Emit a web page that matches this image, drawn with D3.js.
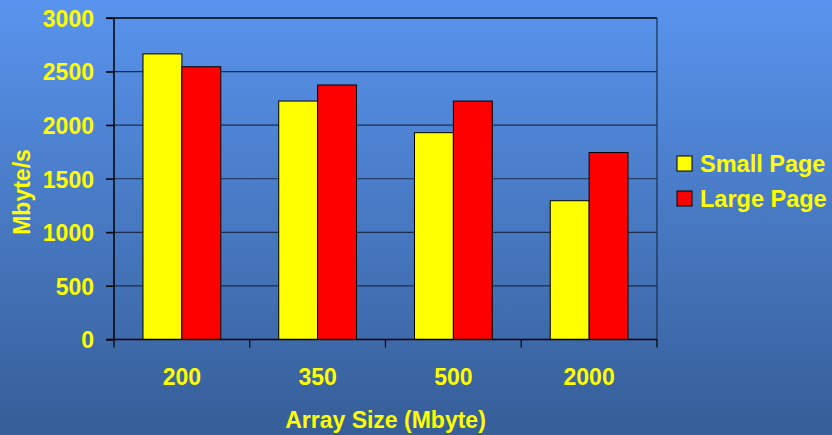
<!DOCTYPE html>
<html>
<head>
<meta charset="utf-8">
<script src="https://cdn.jsdelivr.net/npm/d3@7/dist/d3.min.js"></script>
<style>
  html, body { margin: 0; padding: 0; background: #4a7cc8; }
  svg { display: block; }
  text { font-family: "Liberation Sans", Arial, sans-serif; font-weight: bold; fill: #ffff00; }
</style>
</head>
<body>
<script>
// Memory bandwidth by array size, small vs large pages
const categories = ["200", "350", "500", "2000"];
const seriesNames = ["Small Page", "Large Page"];
const smallPage = [2665, 2225, 1930, 1295];
const largePage = [2545, 2375, 2225, 1745];
const yTicks = [0, 500, 1000, 1500, 2000, 2500, 3000];
const seriesColors = ["#ffff00", "#ff0000"];

const W = 832, H = 435;
const margin = { left: 114, right: 175, top: 18, bottom: 95.5 };
const x0 = margin.left, x1 = W - margin.right;
const yTop = margin.top, yBot = H - margin.bottom;

const svg = d3.select("body").append("svg").attr("width", W).attr("height", H);

// background gradient
const defs = svg.append("defs");
const grad = defs.append("linearGradient").attr("id", "bg").attr("x1", 0).attr("y1", 0).attr("x2", 0).attr("y2", 1);
grad.append("stop").attr("offset", "0%").attr("stop-color", "#5994ee");
grad.append("stop").attr("offset", "100%").attr("stop-color", "#365e97");
svg.append("rect").attr("width", W).attr("height", H).attr("fill", "url(#bg)");

const x = d3.scaleBand().domain(categories).range([x0, x1]).paddingInner(0).paddingOuter(0);
const xs = d3.scaleBand().domain(seriesNames).range([0, x.bandwidth()]).paddingInner(0).paddingOuter(0.745);
const y = d3.scaleLinear().domain([0, 3000]).range([yBot, yTop]);

// gridlines with left tick marks
const grid = svg.append("g");
grid.selectAll("line").data(yTicks.filter(d => d > 0)).join("line")
  .attr("x1", x0 - 8).attr("x2", x1)
  .attr("y1", d => y(d)).attr("y2", d => y(d))
  .attr("stroke", d => d === 3000 ? "#000" : "#1c2c4c")
  .attr("stroke-width", d => d === 3000 ? 1.5 : 1.2);

// right edge of plot area
svg.append("line").attr("x1", x1).attr("x2", x1).attr("y1", yTop).attr("y2", yBot)
  .attr("stroke", "#1c2c4c").attr("stroke-width", 1.2);

// bars
const data = categories.map((c, i) => ({ cat: c, vals: [smallPage[i], largePage[i]] }));
const groups = svg.append("g").selectAll("g").data(data).join("g")
  .attr("transform", d => `translate(${x(d.cat)},0)`);
groups.selectAll("rect").data(d => d.vals.map((v, j) => ({ v, s: seriesNames[j], j }))).join("rect")
  .attr("x", d => xs(d.s))
  .attr("width", xs.bandwidth())
  .attr("y", d => y(d.v))
  .attr("height", d => y(0) - y(d.v))
  .attr("fill", d => seriesColors[d.j])
  .attr("stroke", "#000").attr("stroke-width", 1);

// y axis
const yAxis = svg.append("g").attr("transform", `translate(${x0},0)`)
  .call(d3.axisLeft(y).tickValues(yTicks).tickFormat(d3.format("d")).tickSize(8).tickPadding(12));
yAxis.select(".domain").attr("stroke", "#000").attr("stroke-width", 1.5).attr("d", `M0,${yTop}V${yBot}`);
yAxis.selectAll(".tick line").attr("stroke", "#000").attr("stroke-width", 1.2);
yAxis.selectAll(".tick text").attr("font-size", 23).attr("fill", "#ffff00").style("font-family", "'Liberation Sans', Arial, sans-serif").attr("dy", "0.36em");

// x axis: ticks between categories
const xAxisG = svg.append("g");
xAxisG.append("line").attr("x1", x0 - 8).attr("x2", x1).attr("y1", yBot).attr("y2", yBot)
  .attr("stroke", "#000").attr("stroke-width", 1.5);
const boundaries = categories.map(c => x(c)).concat([x1]);
xAxisG.selectAll("line.b").data(boundaries).join("line").attr("class", "b")
  .attr("x1", d => d).attr("x2", d => d).attr("y1", yBot).attr("y2", yBot + 8)
  .attr("stroke", "#000").attr("stroke-width", 1.2);
xAxisG.selectAll("text").data(categories).join("text")
  .attr("x", d => x(d) + x.bandwidth() / 2).attr("y", 385)
  .attr("text-anchor", "middle").attr("font-size", 23).text(d => d);

// axis titles
svg.append("text").attr("x", (x0 + x1) / 2).attr("y", 427.5).attr("text-anchor", "middle")
  .attr("font-size", 23).text("Array Size (Mbyte)");
svg.append("text").attr("transform", "translate(29.5,192) rotate(-90)").attr("text-anchor", "middle")
  .attr("font-size", 23).text("Mbyte/s");

// legend
const legend = svg.append("g").selectAll("g").data(seriesNames).join("g")
  .attr("transform", (d, i) => `translate(677,${156 + i * 35})`);
legend.append("rect").attr("width", 15).attr("height", 15)
  .attr("fill", (d, i) => seriesColors[i]).attr("stroke", "#000").attr("stroke-width", 1);
legend.append("text").attr("x", 23).attr("y", 15.5).attr("font-size", 23.5).text(d => d);
</script>
</body>
</html>
